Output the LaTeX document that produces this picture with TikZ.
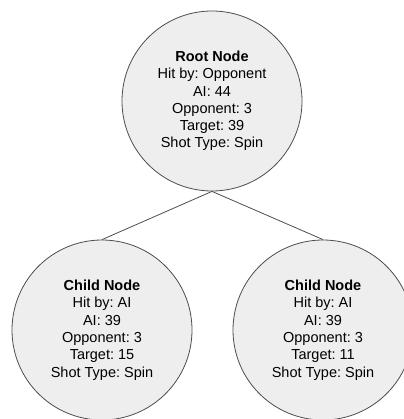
\documentclass[tikz,border=0pt]{standalone}
\usepackage{fontspec}
\setmainfont{Liberation Sans}
\usepackage{tikz}
\usepackage{xcolor}
\definecolor{nodegray}{HTML}{EEEEEE}
\definecolor{linegray}{HTML}{4D4D4D}
\frenchspacing

\begin{document}
\begin{tikzpicture}[x=1pt, y=1pt,
  treenode/.style={circle, draw=linegray, fill=nodegray, line width=0.8pt, minimum size=180pt, inner sep=0pt, align=center, font=\fontsize{14.5}{17.3}\selectfont}]

\useasboundingbox (0,0) rectangle (403,-419);

\node[treenode] (root) at (212,-101) {\textbf{Root Node}\\Hit by: Opponent\\AI: 44\\Opponent: 3\\Target: 39\\Shot Type: Spin};
\node[treenode] (childL) at (102,-330) {\textbf{Child Node}\\Hit by: AI\\AI: 39\\Opponent: 3\\Target: 15\\Shot Type: Spin};
\node[treenode] (childR) at (323,-330) {\textbf{Child Node}\\Hit by: AI\\AI: 39\\Opponent: 3\\Target: 11\\Shot Type: Spin};

\foreach \c in {childL, childR}
\draw[linegray, line width=0.8pt] (root.south) -- (\c.north);

\end{tikzpicture}
\end{document}
